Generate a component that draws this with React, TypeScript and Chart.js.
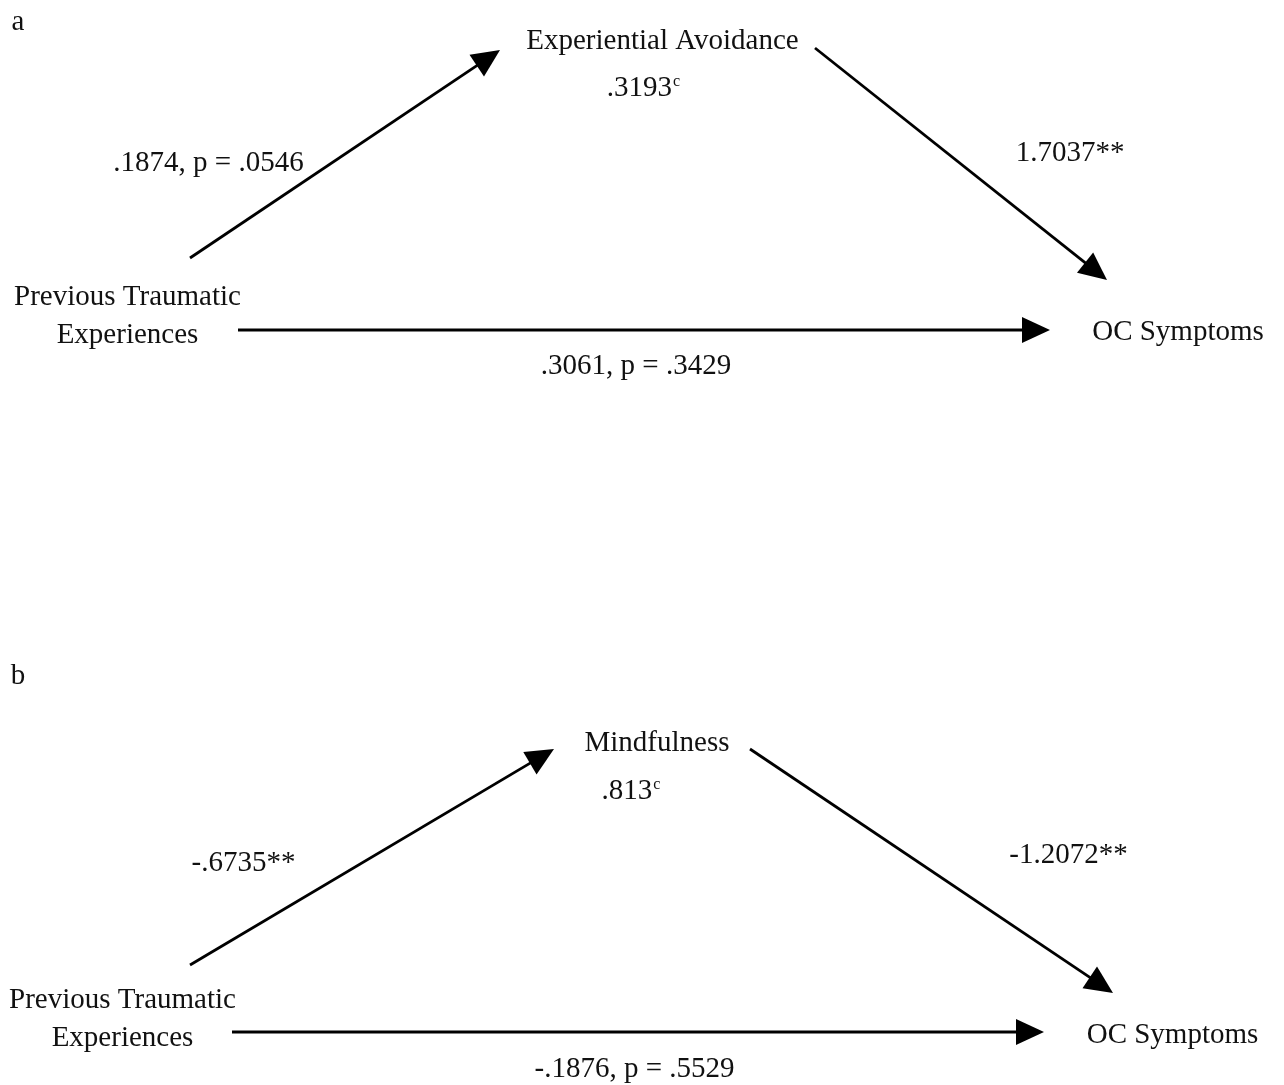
import React, { useEffect, useRef } from 'react';
import { Chart, registerables } from 'chart.js';

Chart.register(...registerables);

const W = 1284;
const H = 1085;

// Paths of the two mediation diagrams (arrow tip at the "to" end)
const pathFromX = [190, 815, 238, 190, 750, 232];
const pathFromY = [258, 48, 330, 965, 749, 1032];
const pathToX = [500, 1107, 1050, 554, 1113, 1044];
const pathToY = [50, 280, 330, 749, 993, 1032];

// Text labels (centre x, baseline y)
const labelTexts = [
  'a', 'Experiential Avoidance', '.3193', '.1874, p = .0546', '1.7037**',
  'Previous Traumatic', 'Experiences', 'OC Symptoms', '.3061, p = .3429',
  'b', 'Mindfulness', '.813', '-.6735**', '-1.2072**',
  'Previous Traumatic', 'Experiences', 'OC Symptoms', '-.1876, p = .5529',
];
const labelSup = ['', '', 'c', '', '', '', '', '', '', '', '', 'c', '', '', '', '', '', ''];
const labelX = [18, 662.5, 643, 208.5, 1070, 127.5, 127.5, 1178, 636, 18, 657, 630.5, 243.5, 1068.5, 122.5, 122.5, 1172.5, 634.5];
const labelY = [30, 49, 96, 171, 161, 305, 343, 340, 374, 684, 751, 799, 871, 863, 1008, 1046, 1043, 1077];

const FONT_SIZE = 29;
const SUP_SIZE = 16;
const FAMILY = '"Liberation Serif", "Times New Roman", Times, serif';
const ARROW_LEN = 28;
const ARROW_HALF = 13;

const arrowPlugin = {
  id: 'arrowsAndLabels',
  afterDatasetsDraw(chart: any) {
    const ctx = chart.ctx;
    const xs = chart.scales.x;
    const ys = chart.scales.y;
    ctx.save();
    // arrowheads
    ctx.fillStyle = '#000';
    for (let i = 0; i < pathToX.length; i++) {
      const x0 = xs.getPixelForValue(pathFromX[i]);
      const y0 = ys.getPixelForValue(pathFromY[i]);
      const x1 = xs.getPixelForValue(pathToX[i]);
      const y1 = ys.getPixelForValue(pathToY[i]);
      const a = Math.atan2(y1 - y0, x1 - x0);
      const bx = x1 - ARROW_LEN * Math.cos(a);
      const by = y1 - ARROW_LEN * Math.sin(a);
      ctx.beginPath();
      ctx.moveTo(x1, y1);
      ctx.lineTo(bx + ARROW_HALF * Math.sin(a), by - ARROW_HALF * Math.cos(a));
      ctx.lineTo(bx - ARROW_HALF * Math.sin(a), by + ARROW_HALF * Math.cos(a));
      ctx.closePath();
      ctx.fill();
    }
    // labels
    ctx.fillStyle = '#111';
    ctx.textBaseline = 'alphabetic';
    ctx.textAlign = 'left';
    for (let i = 0; i < labelTexts.length; i++) {
      ctx.font = `${FONT_SIZE}px ${FAMILY}`;
      const mainW = ctx.measureText(labelTexts[i]).width;
      let supW = 0;
      if (labelSup[i]) {
        ctx.font = `${SUP_SIZE}px ${FAMILY}`;
        supW = ctx.measureText(labelSup[i]).width;
      }
      const cx = xs.getPixelForValue(labelX[i]);
      const cy = ys.getPixelForValue(labelY[i]);
      const left = cx - (mainW + supW) / 2;
      ctx.font = `${FONT_SIZE}px ${FAMILY}`;
      ctx.fillText(labelTexts[i], left, cy);
      if (labelSup[i]) {
        ctx.font = `${SUP_SIZE}px ${FAMILY}`;
        ctx.fillText(labelSup[i], left + mainW + 1, cy - 10);
      }
    }
    ctx.restore();
  },
};

export default function App() {
  const ref = useRef<HTMLCanvasElement | null>(null);
  useEffect(() => {
    if (!ref.current) return;
    const datasets = pathFromX.map((_, i) => {
      const dx = pathToX[i] - pathFromX[i];
      const dy = pathToY[i] - pathFromY[i];
      const len = Math.hypot(dx, dy);
      const cut = ARROW_LEN * 0.5;
      return {
        label: `path${i}`,
        data: [
          { x: pathFromX[i], y: pathFromY[i] },
          { x: pathToX[i] - (dx / len) * cut, y: pathToY[i] - (dy / len) * cut },
        ],
        showLine: true,
        borderColor: '#000',
        borderWidth: 2.8,
        pointRadius: 0,
        fill: false,
      };
    });
    const chart = new Chart(ref.current, {
      type: 'scatter',
      data: { datasets },
      options: {
        animation: false,
        responsive: true,
        maintainAspectRatio: false,
        layout: { padding: 0 },
        scales: {
          x: { type: 'linear', min: 0, max: W, display: false },
          y: { type: 'linear', min: 0, max: H, reverse: true, display: false },
        },
        plugins: { legend: { display: false }, tooltip: { enabled: false } },
        events: [],
      },
      plugins: [arrowPlugin],
    });
    return () => chart.destroy();
  }, []);
  return (
    <div style={{ position: 'absolute', left: 0, top: 0, width: W, height: H, background: '#fff' }}>
      <canvas ref={ref} />
    </div>
  );
}
